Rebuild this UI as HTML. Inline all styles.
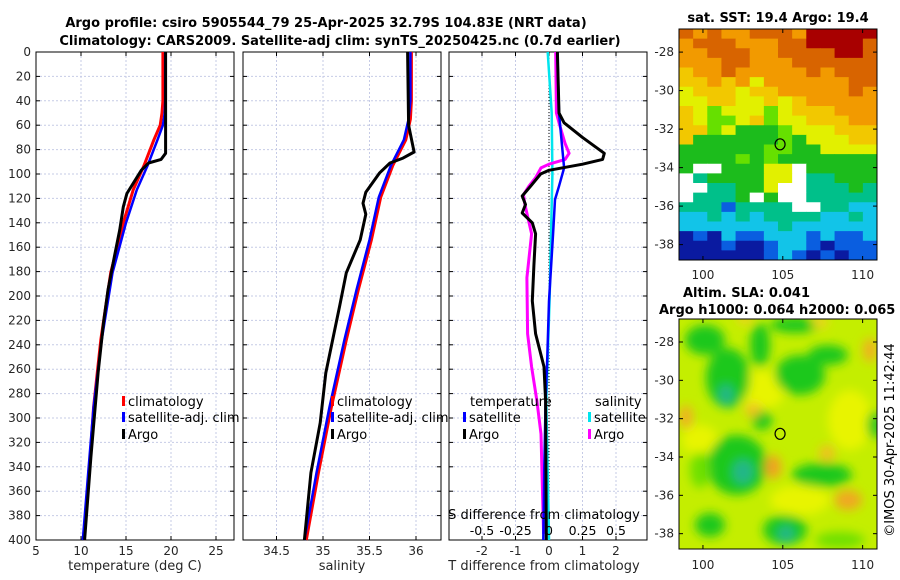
<!DOCTYPE html>
<html><head><meta charset="utf-8"><style>
body{margin:0;background:#fff;}
svg{display:block;font-family:"DejaVu Sans","Liberation Sans",sans-serif;}
</style></head><body>
<svg id="fig" width="900" height="580" viewBox="0 0 900 580" xmlns="http://www.w3.org/2000/svg">
<defs><filter id="blur" x="-50%" y="-50%" width="200%" height="200%"><feGaussianBlur stdDeviation="5"/></filter>
<clipPath id="slaclip"><rect x="679" y="319" width="198" height="230"/></clipPath></defs>
<text x="326" y="27" text-anchor="middle" font-size="13" font-weight="bold">Argo profile: csiro 5905544_79 25-Apr-2025 32.79S 104.83E (NRT data)</text>
<text x="340" y="45" text-anchor="middle" font-size="13" font-weight="bold">Climatology: CARS2009. Satellite-adj clim: synTS_20250425.nc (0.7d earlier)</text>
<g id="layer"></g>
</svg>
<script>
// ---- data ----
const depthTicks = [0,20,40,60,80,100,120,140,160,180,200,220,240,260,280,300,320,340,360,380,400];
const tempTicks = [5,10,15,20,25];
const salTicks = [34.5,35,35.5,36];
const tdiffTicks = [-2,-1,0,1,2];
const sdiffTicks = [-0.5,-0.25,0,0.25,0.5];
const sdiffLabels = ["-0.5","-0.25","0","0.25","0.5"];

const climTDepth = [0,40,50,60,72,93,113,140,181,236,291,345,400];
const climT = [19.1,19.1,19.0,18.8,18.1,17.0,15.8,14.7,13.3,12.2,11.4,10.9,10.3];
const satT = [19.35,19.35,19.3,19.1,18.5,17.4,16.2,15.0,13.5,12.3,11.4,10.8,10.2];
const argoTDepth = [0,83,88,91,97,116,127,146,168,195,222,263,332,400];
const argoT = [19.4,19.4,18.9,17.5,16.7,15.1,14.7,14.3,13.7,13.0,12.5,11.9,11.1,10.4];

const climSDepth = [0,40,55,72,93,119,154,195,236,291,345,400];
const climS = [35.95,35.95,35.94,35.89,35.75,35.62,35.52,35.38,35.25,35.09,34.95,34.82];
const satS = [35.94,35.94,35.92,35.87,35.73,35.60,35.50,35.36,35.23,35.07,34.93,34.80];
const argoSDepth = [0,60,82,87,91,99,115,124,133,154,181,208,263,304,345,400];
const argoS = [35.91,35.92,35.98,35.86,35.72,35.61,35.46,35.43,35.46,35.40,35.25,35.18,35.03,34.97,34.87,34.80];

const satTdDepth = [0,50,80,95,110,121,150,204,250,286,340,400];
const satTd = [0.25,0.3,0.4,0.45,0.3,0.18,0.12,0.0,-0.05,-0.1,-0.14,-0.17];
const argoTdDepth = [0,50,58,70,83,88,92,97,100,110,118,125,132,140,149,175,204,231,258,286,400];
const argoTd = [0.25,0.3,0.45,1.0,1.65,1.6,1.0,0.0,-0.25,-0.55,-0.8,-0.7,-0.8,-0.5,-0.4,-0.45,-0.5,-0.4,-0.15,-0.1,-0.08];
const satSdDepth = [0,50,100,150,200,286,400];
const satSd = [-0.01,0.02,0.025,0.015,0.005,-0.02,0.0];
const argoSdDepth = [0,50,60,75,83,88,92,95,103,110,117,125,149,185,231,258,286,313,395];
const argoSd = [0.05,0.055,0.08,0.12,0.15,0.12,0.0,-0.06,-0.1,-0.15,-0.19,-0.18,-0.13,-0.165,-0.16,-0.13,-0.09,-0.06,-0.04];

const lonTicks = [100,105,110];
const latTicks = [-28,-30,-32,-34,-36,-38];
const argoLon = 104.83, argoLat = -32.79;

// ---- helpers ----
const NS="http://www.w3.org/2000/svg";
const L=document.getElementById('layer');
function mk(tag,attrs,parent){const e=document.createElementNS(NS,tag);for(const k in attrs)e.setAttribute(k,attrs[k]);(parent||L).appendChild(e);return e;}
const PT=52, PB=540;
const yD = d => PT + d*(PB-PT)/400;
function lin(d0,d1,r0,r1){return v=>r0+(v-d0)*(r1-r0)/(d1-d0);}

function panel(x0,x1,xs,xt,name){
  const g=mk('g',{});
  
  
  depthTicks.forEach(d=>{mk('line',{x1:x0,x2:x1,y1:yD(d),y2:yD(d),stroke:'#c6cbe6','stroke-dasharray':'2,2','stroke-width':1},g);});
  xt.forEach(v=>{const x=xs(v);mk('line',{x1:x,x2:x,y1:PT,y2:PB,stroke:'#c6cbe6','stroke-dasharray':'2,2','stroke-width':1},g);});
  return g;
}
function frame(x0,x1,xs,xt,xlabels,g,withYlabels){
  mk('rect',{x:x0,y:PT,width:x1-x0,height:PB-PT,fill:'none',stroke:'#000','stroke-width':1},g);
  depthTicks.forEach(d=>{const y=yD(d);
    mk('line',{x1:x0,x2:x0+4,y1:y,y2:y,stroke:'#000'},g);mk('line',{x1:x1-4,x2:x1,y1:y,y2:y,stroke:'#000'},g);
    if(withYlabels){const t=mk('text',{x:x0-5,y:y+4,'text-anchor':'end','font-size':12,fill:'#262626'},g);t.textContent=d;}
  });
  xt.forEach((v,i)=>{const x=xs(v);
    mk('line',{x1:x,x2:x,y1:PB,y2:PB-4,stroke:'#000'},g);mk('line',{x1:x,x2:x,y1:PT,y2:PT+4,stroke:'#000'},g);
    if(xlabels){const t=mk('text',{x:x,y:PB+15,'text-anchor':'middle','font-size':12,fill:'#262626'},g);t.textContent=xlabels[i];}
  });
}
function line(xs,vals,depths,color,w,name){
  const p=vals.map((v,i)=>(i?'L':'M')+xs(v).toFixed(1)+','+yD(depths[i]).toFixed(1)).join('');
  const e=mk('path',{d:p,fill:'none',stroke:color,'stroke-width':w,'stroke-linejoin':'round'});
  
  
}
function txt(x,y,s,opts,name){const t=mk('text',Object.assign({x:x,y:y,'font-size':13},opts||{}));t.textContent=s;return t;}
function legend(x,y,color,label,name){
  const r=mk('rect',{x:x,y:y-10,width:3,height:10,fill:color});
  
  
  txt(x+6,y,label,{'font-size':13},name);
}

// ---- panel 1: temperature ----
const xT=lin(5,27,36,234);
const g1=panel(36,234,xT,tempTicks,'temperature-panel');
line(xT,climT,climTDepth,'#ff0000',3,'temperature-climatology-line');
line(xT,satT,climTDepth,'#0000ff',2.5,'temperature-satellite-line');
line(xT,argoT,argoTDepth,'#000000',3,'temperature-argo-line');
frame(36,234,xT,tempTicks,tempTicks.map(String),g1,true);
txt(135,570,'temperature (deg C)',{'text-anchor':'middle','font-size':13,fill:'#262626'},'temperature-x-axis-title');
legend(122,406,'#ff0000','climatology','legend-climatology');
legend(122,422,'#0000ff','satellite-adj. clim','legend-satellite-clim');
legend(122,439,'#000000','Argo','legend-argo');

// ---- panel 2: salinity ----
const xS=lin(35,36,323,416);
const g2=panel(243,441,xS,salTicks,'salinity-panel');
line(xS,climS,climSDepth,'#ff0000',3,'salinity-climatology-line');
line(xS,satS,climSDepth,'#0000ff',2.5,'salinity-satellite-line');
line(xS,argoS,argoSDepth,'#000000',3,'salinity-argo-line');
frame(243,441,xS,salTicks,salTicks.map(String),g2,false);
txt(342,570,'salinity',{'text-anchor':'middle','font-size':13,fill:'#262626'},'salinity-x-axis-title');
legend(331,406,'#ff0000','climatology','legend-sal-climatology');
legend(331,422,'#0000ff','satellite-adj. clim','legend-sal-satellite-clim');
legend(331,439,'#000000','Argo','legend-sal-argo');

// ---- panel 3: differences ----
const xTd=lin(0,1,549,582.5);
const xSd=lin(0,0.25,549,582.5);
const g3=panel(449,647,xTd,tdiffTicks,'difference-panel');
mk('line',{x1:xTd(0),x2:xTd(0),y1:PT,y2:PB,stroke:'#000','stroke-dasharray':'1,2','stroke-width':1});
line(xSd,satSd,satSdDepth,'#00e5ee',2.5,'sdiff-satellite-line');
line(xSd,argoSd,argoSdDepth,'#ff00ff',3,'sdiff-argo-line');
line(xTd,satTd,satTdDepth,'#0000ff',2.5,'tdiff-satellite-line');
line(xTd,argoTd,argoTdDepth,'#000000',3,'tdiff-argo-line');
frame(449,647,xTd,tdiffTicks,tdiffTicks.map(String),g3,false);
txt(544,570,'T difference from climatology',{'text-anchor':'middle','font-size':13,fill:'#262626'},'tdiff-x-axis-title');
txt(544,519,'S difference from climatology',{'text-anchor':'middle','font-size':13,fill:'#000'},'sdiff-axis-title');
sdiffTicks.forEach((v,i)=>{txt(xSd(v),535,sdiffLabels[i],{'text-anchor':'middle','font-size':12.5},'sdiff-tick-label');});
txt(470,406,'temperature',{'font-size':13},'legend-temperature-heading');
legend(463,422,'#0000ff','satellite','legend-tdiff-satellite');
legend(463,439,'#000000','Argo','legend-tdiff-argo');
txt(595,406,'salinity',{'font-size':13},'legend-salinity-heading');
legend(588,422,'#00e5ee','satellite','legend-sdiff-satellite');
legend(588,439,'#ff00ff','Argo','legend-sdiff-argo');

// ---- SST map ----
const sstRows=[
"OoOooOOOoRRRRR","oOOOoooOORRRRO","ooOOOooOOOORRO","oooOOoooOOOOOO",
"YooOoooooOoOOO","YYoYoyooooooOO","yYYYyYYoooooOo","yyYYyyYyYooooo",
"YygyyygyYYYooo","YyggyYgyyYYYoo","YYgyGGGgyyyYYY","YGGGGGGgGyyyYY",
"GGGGGGggGGyyyy","GGGGgGgGGGGGGG","GWWGGGyyWGGGGG","WCGGGGyyWCCGGG",
"WWCCGGyWWCCCGC","WCCCGWGWWCCCCC","CCCBCCCCWWCCcc","ccCcCcCCCCccCc",
"cccccccCcccccc","DBDcBBcccBcBBc","DDDBDDBccBDBBB","DDDDDDBcBDBDBB"];
const pal={R:'#a80000',O:'#d86400',o:'#f29a00',Y:'#f2c800',y:'#e2f000',G:'#1cbc1c',g:'#66e000',C:'#00c08a',c:'#12c4e8',B:'#0a5ee0',D:'#0a1aa0',W:'#ffffff'};
const MX0=679,MX1=877;
const sy0=29,sy1=260;
const gs=mk('g',{});


const ncol=sstRows[0].length;
const cw=(MX1-MX0)/ncol, ch=(sy1-sy0)/sstRows.length;
sstRows.forEach((r,i)=>{[...r].forEach((c,j)=>{mk('rect',{x:MX0+j*cw,y:sy0+i*ch,width:cw+0.5,height:ch+0.5,fill:pal[c]},gs);});});
const lonX=lin(98.5,110.9,MX0,MX1);
const latYs=lin(-26.8,-38.8,sy0,sy1);
const latYa=lin(-26.8,-38.8,319,549);
function mapAxes(y0,y1,latY,g,lblY){
  mk('rect',{x:MX0,y:y0,width:MX1-MX0,height:y1-y0,fill:'none',stroke:'#000'},g);
  latTicks.forEach(v=>{const y=latY(v);mk('line',{x1:MX0,x2:MX0+4,y1:y,y2:y,stroke:'#000'},g);mk('line',{x1:MX1-4,x2:MX1,y1:y,y2:y,stroke:'#000'},g);
    const t=mk('text',{x:MX0-5,y:y+4,'text-anchor':'end','font-size':12,fill:'#262626'},g);t.textContent=v;});
  lonTicks.forEach(v=>{const x=lonX(v);mk('line',{x1:x,x2:x,y1:y1,y2:y1-4,stroke:'#000'},g);mk('line',{x1:x,x2:x,y1:y0,y2:y0+4,stroke:'#000'},g);
    const t=mk('text',{x:x,y:lblY,'text-anchor':'middle','font-size':12,fill:'#262626'},g);t.textContent=v;});
}
mapAxes(sy0,sy1,latYs,gs,279);
const c1=mk('ellipse',{cx:lonX(argoLon),cy:latYs(argoLat),rx:5,ry:5.5,fill:'none',stroke:'#000','stroke-width':1.2});


txt(778,22,'sat. SST: 19.4 Argo: 19.4',{'text-anchor':'middle','font-size':13,'font-weight':'bold'},'sst-map-title');

// ---- SLA map ----
const ga=mk('g',{});


mk('rect',{x:MX0,y:319,width:MX1-MX0,height:230,fill:'#c4ee00'},ga);
const blobs=mk('g',{'clip-path':'url(#slaclip)'},ga);
const bf=mk('g',{filter:'url(#blur)'},blobs);
const blobList=[
['#e8f400',760,390,25,20],['#e8f400',850,420,22,30],['#e8f400',700,440,18,15],['#e8f400',800,500,30,15],
['#1ec81e',705,340,20,15],['#1ec81e',728,378,22,30],['#1ec81e',760,345,10,22],['#1ec81e',795,325,25,8],
['#1ec81e',800,375,25,20],['#1ec81e',828,355,20,10],['#1ec81e',737,465,30,30],['#1ec81e',822,475,30,12],
['#1ec81e',710,525,15,12],['#1ec81e',785,530,22,15],['#1ec81e',875,425,8,14],['#1ec81e',762,420,10,10],
['#6ee000',840,540,25,8],['#6ee000',700,470,10,18],
['#20b68a',726,395,7,10],['#20b68a',743,472,10,12],['#20b68a',786,534,8,8],
['#f2a020',773,467,8,12],['#f0a820',848,500,14,10],['#f0c020',827,453,8,8],['#f0b020',686,417,7,12],['#f0c020',753,410,8,7],
['#f0b020',870,350,7,12],['#f0d020',820,322,8,6],['#f0d020',745,318,8,6]];
blobList.forEach(b=>{mk('ellipse',{cx:b[1],cy:b[2],rx:b[3],ry:b[4],fill:b[0]},bf);});
mapAxes(319,549,latYa,ga,569);
const c2=mk('ellipse',{cx:lonX(argoLon),cy:latYa(argoLat),rx:5,ry:5.5,fill:'none',stroke:'#000','stroke-width':1.2});


txt(683,297,'Altim. SLA: 0.041',{'font-size':13,'font-weight':'bold'},'sla-map-title');
txt(659,314,'Argo h1000: 0.064 h2000: 0.065',{'font-size':13,'font-weight':'bold'},'sla-argo-heights');
txt(0,0,'©IMOS 30-Apr-2025 11:42:44',{'font-size':13,'text-anchor':'middle',transform:'translate(894,440) rotate(-90)'},'imos-timestamp');
</script>
</body></html>
